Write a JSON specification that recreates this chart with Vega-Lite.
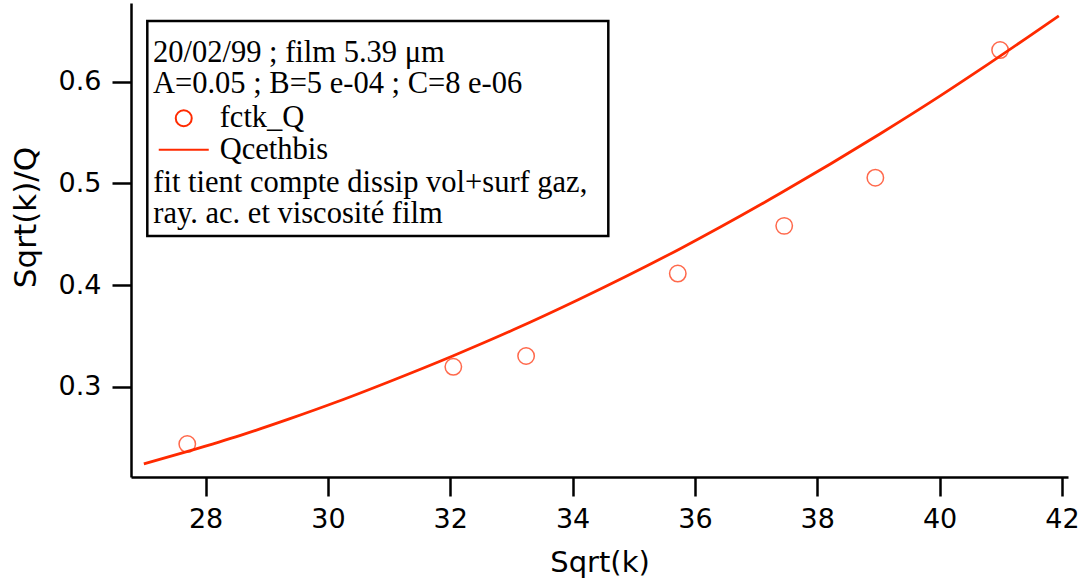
{
  "$schema": "https://vega.github.io/schema/vega-lite/v6.json",
  "width": 937,
  "height": 474,
  "autosize": {"type": "none"},
  "padding": {"left": 131, "top": 3, "right": 15, "bottom": 102},
  "background": "white",
  "datasets": {
    "fit": [
      {"sqrtk": 26.99, "val": 0.2241, "series": "Qcethbis"},
      {"sqrtk": 27.75, "val": 0.2372, "series": "Qcethbis"},
      {"sqrtk": 28.57, "val": 0.2522, "series": "Qcethbis"},
      {"sqrtk": 29.38, "val": 0.2686, "series": "Qcethbis"},
      {"sqrtk": 30.15, "val": 0.2852, "series": "Qcethbis"},
      {"sqrtk": 30.99, "val": 0.3047, "series": "Qcethbis"},
      {"sqrtk": 32.05, "val": 0.3305, "series": "Qcethbis"},
      {"sqrtk": 33.04, "val": 0.3562, "series": "Qcethbis"},
      {"sqrtk": 34.1, "val": 0.3858, "series": "Qcethbis"},
      {"sqrtk": 35.76, "val": 0.4358, "series": "Qcethbis"},
      {"sqrtk": 37.39, "val": 0.4900, "series": "Qcethbis"},
      {"sqrtk": 39.03, "val": 0.5488, "series": "Qcethbis"},
      {"sqrtk": 40.01, "val": 0.5860, "series": "Qcethbis"},
      {"sqrtk": 40.66, "val": 0.6118, "series": "Qcethbis"},
      {"sqrtk": 41.95, "val": 0.6648, "series": "Qcethbis"}
    ],
    "meas": [
      {"sqrtk": 27.7, "val": 0.2436, "series": "fctk_Q"},
      {"sqrtk": 32.05, "val": 0.3196, "series": "fctk_Q"},
      {"sqrtk": 33.24, "val": 0.3302, "series": "fctk_Q"},
      {"sqrtk": 35.72, "val": 0.4113, "series": "fctk_Q"},
      {"sqrtk": 37.46, "val": 0.4582, "series": "fctk_Q"},
      {"sqrtk": 38.95, "val": 0.5056, "series": "fctk_Q"},
      {"sqrtk": 40.99, "val": 0.6311, "series": "fctk_Q"}
    ]
  },
  "layer": [
    {
      "data": {"values": [{}]},
      "mark": {"type": "rect", "fill": "white", "stroke": "black", "strokeWidth": 2.5},
      "encoding": {
        "x": {"datum": 27.0465, "type": "quantitative"},
        "x2": {"datum": 34.584},
        "y": {"datum": 0.6597, "type": "quantitative"},
        "y2": {"datum": 0.4482}
      }
    },
    {
      "data": {"values": [{}]},
      "mark": {
        "type": "text",
        "text": ["fit tient compte dissip vol+surf gaz,", "ray. ac. et viscosité film"],
        "font": "Liberation Serif",
        "fontSize": 30.5,
        "align": "left",
        "baseline": "alphabetic",
        "lineHeight": 30.5,
        "color": "black"
      },
      "encoding": {
        "x": {"datum": 27.145, "type": "quantitative"},
        "y": {"datum": 0.4915, "type": "quantitative"}
      }
    },
    {
      "data": {"name": "fit"},
      "mark": {"type": "line", "strokeWidth": 2.8, "interpolate": "monotone"},
      "encoding": {
        "x": {
          "field": "sqrtk", "type": "quantitative",
          "scale": {"domain": [26.78, 42.1], "nice": false, "zero": false},
          "axis": {
            "values": [28, 30, 32, 34, 36, 38, 40, 42], "format": "d",
            "labelPadding": 10, "labelFlush": false,
            "title": "Sqrt(k)", "titleFontSize": 29, "titleY": 94, "titleBaseline": "alphabetic"
          }
        },
        "y": {
          "field": "val", "type": "quantitative",
          "scale": {"domain": [0.2112, 0.6774], "nice": false, "zero": false},
          "axis": {
            "values": [0.3, 0.4, 0.5, 0.6], "format": ".1f",
            "labelPadding": 11, "labelFlush": false,
            "title": "Sqrt(k)/Q", "titleFontSize": 31, "titleX": -96, "titleY": 214,
            "titleAlign": "center", "titleBaseline": "alphabetic"
          }
        },
        "color": {
          "field": "series", "type": "nominal",
          "scale": {"domain": ["fctk_Q", "Qcethbis"], "range": ["#ff2a00", "#ff2a00"]},
          "legend": {
            "orient": "none", "legendX": 22, "legendY": 35, "direction": "vertical",
            "title": ["20/02/99 ; film 5.39 μm", "A=0.05 ; B=5 e-04 ; C=8 e-06"],
            "titleFont": "Liberation Serif", "titleFontSize": 30.5, "titleFontWeight": "normal",
            "titleColor": "black", "titleLineHeight": 30.5, "titleBaseline": "top",
            "titlePadding": 4, "titleLimit": 600,
            "labelFont": "Liberation Serif", "labelFontSize": 30.5, "labelColor": "black",
            "labelOffset": 20.7, "labelLimit": 400,
            "symbolSize": 256, "symbolStrokeWidth": 2, "symbolOffset": 15.5,
            "rowPadding": 0.5, "padding": 0,
            "encode": {
              "symbols": {
                "update": {
                  "shape": {"signal": "datum.value === 'Qcethbis' ? 'M-3.125,0H3.125' : 'circle'"},
                  "fill": {"value": "transparent"},
                  "stroke": {"value": "#ff2a00"}
                }
              }
            }
          }
        }
      }
    },
    {
      "data": {"name": "meas"},
      "mark": {"type": "point", "filled": false, "shape": "circle", "size": 270, "strokeWidth": 1.5},
      "encoding": {
        "x": {"field": "sqrtk", "type": "quantitative"},
        "y": {"field": "val", "type": "quantitative"},
        "color": {"field": "series", "type": "nominal"}
      }
    }
  ],
  "config": {
    "view": {"stroke": null},
    "axis": {
      "domainColor": "black", "domainWidth": 2.5,
      "tickColor": "black", "tickWidth": 2.5, "tickSize": 19,
      "labelFont": "DejaVu Sans", "labelFontSize": 27, "labelColor": "black",
      "titleFont": "DejaVu Sans", "titleFontSize": 28, "titleFontWeight": "normal", "titleColor": "black",
      "grid": false
    }
  }
}
